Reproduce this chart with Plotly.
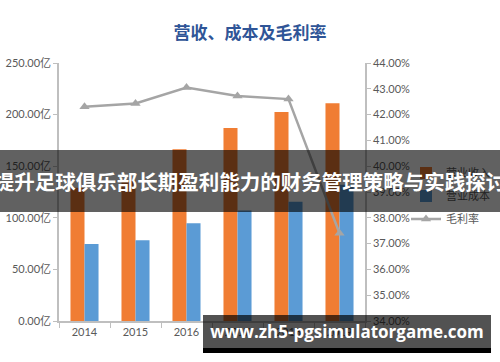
import plotly.graph_objects as go

years = ["2014", "2015", "2016", "2017", "2018", "2019"]
revenue = [129, 136, 166.5, 187, 202.5, 211]
cost = [74.6, 78.2, 94.7, 107, 115.5, 132]
margin = [42.3, 42.43, 43.05, 42.72, 42.6, 37.4]

FONT = "Lato, 'Noto Sans CJK SC', sans-serif"
CJK = "'Noto Sans CJK SC', sans-serif"
GRAY = "#595959"

fig = go.Figure()
fig.add_trace(go.Bar(x=years, y=revenue, name="营业收入", marker=dict(color="#F07D33", line=dict(width=0)),
                     legendgroup="a"))
fig.add_trace(go.Bar(x=years, y=cost, name="营业成本", marker=dict(color="#5B9BD5", line=dict(width=0)),
                     legendgroup="b"))
fig.add_trace(go.Scatter(x=years, y=margin, name="毛利率", yaxis="y2", mode="lines+markers",
                         line=dict(color="#A5A5A5", width=2.5),
                         marker=dict(symbol="triangle-up", size=9, color="#A5A5A5"),
                         legendgroup="c"))

fig.update_layout(
    width=500, height=362,
    margin=dict(l=59, r=135, t=63, b=41, autoexpand=False),
    paper_bgcolor="white", plot_bgcolor="white",
    barmode="group", bargap=0.45, bargroupgap=0,
    title=dict(text="<b>营收、成本及毛利率</b>", x=0.5, xanchor="center", y=1 - 33 / 362, yanchor="middle",
               font=dict(family=CJK, size=17, color="#2F5597")),
    font=dict(family=FONT, size=11, color=GRAY),
    showlegend=True,
    legend=dict(x=1.134, xanchor="left", y=0.63, yanchor="top", bgcolor="rgba(0,0,0,0)",
                font=dict(family=CJK, size=11, color=GRAY), tracegroupgap=4, itemwidth=30),
    xaxis=dict(showline=True, linecolor="#BFBFBF", linewidth=1.5, ticks="outside", tickson="boundaries",
               ticklen=5, tickcolor="#BFBFBF", showgrid=False, automargin=False,
               tickfont=dict(family=FONT, size=11, color=GRAY)),
    yaxis=dict(range=[0, 250], dtick=50, tickformat=".2f", ticksuffix="亿", showline=True, linecolor="#BFBFBF",
               linewidth=1.5, ticks="outside", ticklen=4, tickcolor="#BFBFBF", showgrid=False, zeroline=False,
               automargin=False, tickfont=dict(family=FONT, size=11, color=GRAY)),
    yaxis2=dict(range=[34, 44], dtick=1, tickformat=".2f", ticksuffix="%", overlaying="y", side="right",
                showline=True, linecolor="#BFBFBF", linewidth=1.5, ticks="outside", ticklen=4,
                tickcolor="#BFBFBF", showgrid=False, zeroline=False, automargin=False,
                tickfont=dict(family=FONT, size=11, color=GRAY)),
)

# black strip below watermark box
fig.add_shape(type="rect", xref="paper", yref="paper", x0=0.4706, x1=1.4118, y0=-0.1047, y1=-0.124,
              fillcolor="black", line=dict(width=0), layer="above")

# banner overlay
fig.add_annotation(xref="paper", yref="paper", x=0.6242, y=0.5426, xanchor="center", yanchor="middle",
                   text="<b>提升足球俱乐部长期盈利能力的财务管理策略与实践探讨</b>", showarrow=False,
                   width=500, height=62, bgcolor="rgba(0,0,0,0.62)", borderpad=0, borderwidth=0,
                   font=dict(family=CJK, size=20.5, color="white"))

# watermark box
fig.add_annotation(xref="paper", yref="paper", x=0.9412, y=-0.0407, xanchor="center", yanchor="middle",
                   text="<b>www.zh5-pgsimulatorgame.com</b>", showarrow=False,
                   width=288, height=33, bgcolor="rgba(0,0,0,0.68)", borderpad=0, borderwidth=0,
                   font=dict(family="'Open Sans', sans-serif", size=17, color="white"))

fig.write_html("out.html", config={"displayModeBar": False},
               post_script="document.body.style.margin='0';")
